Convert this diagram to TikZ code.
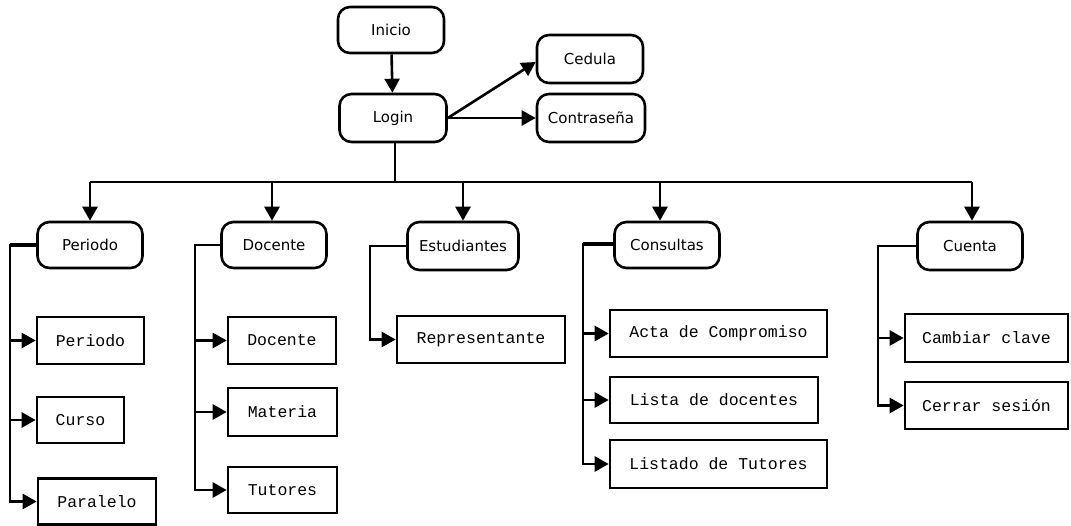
\documentclass[tikz,border=0pt]{standalone}
\usepackage{fontspec}
\setmainfont{DejaVu Sans}
\newfontfamily\monof{Liberation Mono}
\usetikzlibrary{arrows.meta}
\begin{document}
\begin{tikzpicture}[x=1pt,y=-1pt,
  line width=2.6pt,
  rbox/.style={draw,rounded corners=12pt,inner sep=0pt,font=\fontsize{15}{17}\selectfont},
  sbox/.style={draw,inner sep=0pt,font=\monof\fontsize{16.5}{18}\selectfont},
  arr/.style={-{Triangle[length=14pt,width=15pt]}}]
\useasboundingbox (0,0) rectangle (1071,526);
% top
\node[rbox,minimum width=106pt,minimum height=46pt] (ini) at (391,30) {Inicio};
\node[rbox,minimum width=107pt,minimum height=48pt] (log) at (393,118) {Login};
\node[rbox,minimum width=106pt,minimum height=48pt] (ced) at (590,59) {Cedula};
\node[rbox,minimum width=108pt,minimum height=48pt] (con) at (591,118) {Contraseña};
% level 2
\node[rbox,minimum width=105pt,minimum height=46pt] (per) at (90,245) {Periodo};
\node[rbox,minimum width=105pt,minimum height=46pt] (doc) at (274,245) {Docente};
\node[rbox,minimum width=111pt,minimum height=48pt] (est) at (463,246) {Estudiantes};
\node[rbox,minimum width=105pt,minimum height=46pt] (cons) at (667,245) {Consultas};
\node[rbox,minimum width=105pt,minimum height=48pt] (cue) at (970,246) {Cuenta};
% leaves
\node[sbox,minimum width=107pt,minimum height=47pt] (p1) at (90.5,340.5) {Periodo};
\node[sbox,minimum width=87pt,minimum height=46pt] (p2) at (80.5,420) {Curso};
\node[sbox,minimum width=118pt,minimum height=46pt] (p3) at (97,501.5) {Paralelo};
\node[sbox,minimum width=108pt,minimum height=47pt] (d1) at (282,340.5) {Docente};
\node[sbox,minimum width=109pt,minimum height=48pt] (d2) at (282.5,412) {Materia};
\node[sbox,minimum width=109pt,minimum height=46pt] (d3) at (282.5,490) {Tutores};
\node[sbox,minimum width=168pt,minimum height=47pt] (e1) at (481,339.5) {Representante};
\node[sbox,minimum width=217pt,minimum height=47pt] (c1) at (718.5,333.5) {Acta de Compromiso};
\node[sbox,minimum width=208pt,minimum height=46pt] (c2) at (714,400) {Lista de docentes};
\node[sbox,minimum width=217pt,minimum height=48pt] (c3) at (718.5,464) {Listado de Tutores};
\node[sbox,minimum width=163pt,minimum height=48pt] (u1) at (986.5,338) {Cambiar clave};
\node[sbox,minimum width=163pt,minimum height=47pt] (u2) at (986.5,405.5) {Cerrar sesión};
% connectors top
\draw[arr] (ini) -- (log);
\draw[arr] (log.east) -- ([yshift=-3pt]ced.west);
\draw[arr] (log.east) -- (con.west);
\coordinate (bus) at (395,182);
\draw ([xshift=2pt]log.south) -- ([xshift=2pt]log.south |- bus);
\draw (per.north |- bus) -- ([xshift=2pt]cue.north |- bus);
\draw[arr] (per.north |- bus) -- (per.north);
\draw[arr] ([xshift=-2pt]doc.north |- bus) -- ([xshift=-2pt]doc.north);
\draw[arr] (est.north |- bus) -- (est.north);
\draw[arr] ([xshift=-7pt]cons.north |- bus) -- ([xshift=-7pt]cons.north);
\draw[arr] ([xshift=2pt]cue.north |- bus) -- ([xshift=2pt]cue.north);
% side trees
\coordinate (tp) at (10,245);
\coordinate (td) at (195,245);
\coordinate (te) at (370,246);
\coordinate (tc) at (583,244);
\coordinate (tu) at (878,246);
\draw[line width=3.8pt] (per.west) -- (tp);
\foreach \c in {p1,p2,p3} \draw[arr] (per.west) -- (tp) |- (\c.west);
\foreach \c in {d1,d2,d3} \draw[arr] (doc.west) -- (td) |- (\c.west);
\draw[arr] (est.west) -- (te) |- (e1.west);
\draw[line width=3.8pt] (cons.west |- tc) -- (tc);
\foreach \c in {c1,c2,c3} \draw[arr] (cons.west |- tc) -- (tc) |- (\c.west);
\foreach \c in {u1,u2} \draw[arr] (cue.west) -- (tu) |- (\c.west);
\end{tikzpicture}
\end{document}
